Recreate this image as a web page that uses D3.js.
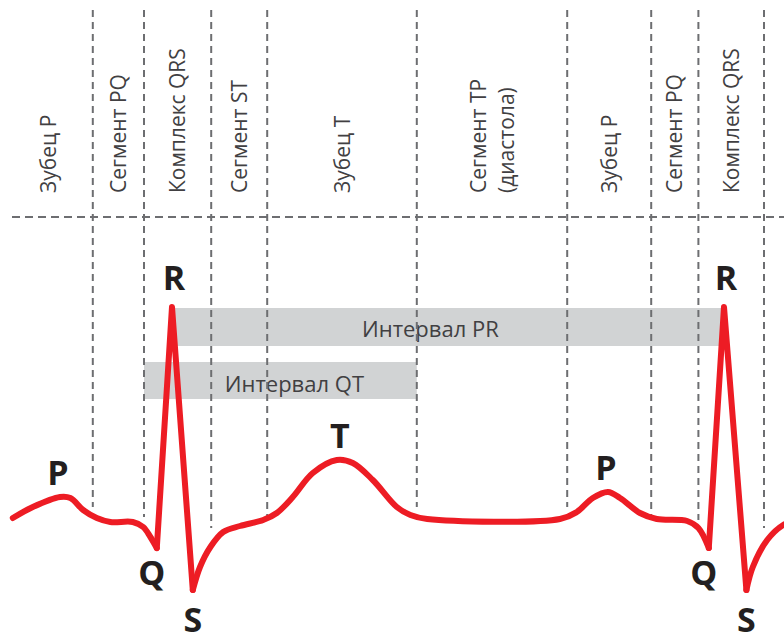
<!DOCTYPE html>
<html>
<head>
<meta charset="utf-8">
<script src="https://cdn.jsdelivr.net/npm/d3@7"></script>
<style>
  html, body { margin: 0; padding: 0; background: #fff; }
  svg { display: block; }
</style>
</head>
<body>
<svg id="chart" width="784" height="636"></svg>
<script>
// ---------------- DATA ----------------
// time axis in ms, voltage in mV (0 = isoelectric line)
const ecgTime  = [16, 41, 75, 88, 104, 121, 138, 166, 179, 188, 196, 215, 241, 250, 263, 279, 300, 329, 346, 366, 391, 421, 441, 466, 496, 513, 534, 700, 721, 741, 760, 775, 800, 821, 859, 873, 886, 905, 933, 941, 959, 979, 990];
const ecgVolt  = [0.01, 0.12, 0.22, 0.21, 0.09, 0.01, -0.03, -0.03, -0.08, -0.18, -0.29, 2.12, -0.71, -0.48, -0.28, -0.13, -0.07, -0.01, 0.06, 0.22, 0.46, 0.59, 0.56, 0.39, 0.12, 0.04, 0.00, 0.00, 0.07, 0.21, 0.27, 0.21, 0.06, 0.00, -0.02, -0.09, -0.29, 2.12, -0.71, -0.48, -0.21, -0.06, -0.03];
const ecgSharp = [0,0,0,0,0,0,0,0,0,0,1,1,1,0,0,0,0,0,0,0,0,0,0,0,0,0,0,0,0,0,0,0,0,0,0,0,1,1,1,0,0,0,0];

// segment boundaries (ms) and their names
const segBounds = [6, 116, 180, 264, 334, 521, 709, 814, 873, 955];
const segNames  = [["Зубец P"], ["Сегмент PQ"], ["Комплекс QRS"], ["Сегмент ST"], ["Зубец T"], ["Сегмент TP", "(диастола)"], ["Зубец P"], ["Сегмент PQ"], ["Комплекс QRS"]];
const dividerEndV = [0.12, 0.02, -0.09, 0.02, 0.12, 0.12, 0.04, -0.01, -0.09];

// intervals
const intervalNames = ["Интервал PR", "Интервал QT"];
const intervalStart = [215, 180];
const intervalEnd   = [905, 521];

// wave labels: name and index of the ECG point they mark
const waveNames = ["P", "Q", "R", "S", "T", "P", "Q", "R", "S"];
const waveIndex = [2, 10, 11, 12, 21, 30, 36, 37, 38];

// ---------------- LAYOUT ----------------
const W = 784, H = 636;
const svg = d3.select("#chart");
const x = d3.scaleLinear().domain([0, 980]).range([0, 784]);
const y = d3.scaleLinear().domain([-1, 2.5]).range([619, 269]);

const RED = "#ed1c24", DASH = "#6d6e71", BAND = "#d1d3d4";

const headerY = 217;       // horizontal dashed separator
const labelBottom = 193;   // start (bottom) of rotated labels
const bandY = [308, 362], bandH = [38, 37];
const bandTextX = [538, 368];
const bandTextY = [337, 392];

// ---- interval bands
intervalNames.forEach((name, i) => {
  svg.append("rect")
    .attr("x", x(intervalStart[i])).attr("y", bandY[i])
    .attr("width", x(intervalEnd[i]) - x(intervalStart[i])).attr("height", bandH[i])
    .attr("fill", BAND);
  svg.append("text")
    .attr("x", x(bandTextX[i])).attr("y", bandTextY[i])
    .attr("text-anchor", "middle")
    .attr("font-family", "'Open Sans', sans-serif")
    .attr("font-size", 22)
    .attr("fill", "#414042")
    .text(name);
});

// ---- dashed grid
svg.append("line")
  .attr("x1", 12).attr("x2", W).attr("y1", headerY).attr("y2", headerY)
  .attr("stroke", DASH).attr("stroke-width", 2).attr("stroke-dasharray", "8,5");

segBounds.slice(1).forEach((b, i) => {
  svg.append("line")
    .attr("x1", x(b)).attr("x2", x(b))
    .attr("y1", 10).attr("y2", y(dividerEndV[i]))
    .attr("stroke", DASH).attr("stroke-width", 2).attr("stroke-dasharray", "7,5");
});

// ---- rotated segment labels
const labelFS = 21, lineGap = 28;
segNames.forEach((lines, i) => {
  const cx = (x(segBounds[i]) + x(segBounds[i + 1])) / 2;
  lines.forEach((t, j) => {
    const off = (j - (lines.length - 1) / 2) * lineGap;
    const bx = cx + off + labelFS * 0.36;
    svg.append("text")
      .attr("transform", `translate(${bx},${labelBottom}) rotate(-90)`)
      .attr("font-family", "'Open Sans', sans-serif")
      .attr("font-size", labelFS)
      .attr("fill", "#414042")
      .text(t);
  });
});

// ---- ECG trace
const pts = ecgTime.map((t, i) => ({t, v: ecgVolt[i], s: ecgSharp[i]}));
const runs = [];
for (let i = 0; i < pts.length - 1; i++) {
  const lin = pts[i].s && pts[i + 1].s;
  const last = runs[runs.length - 1];
  if (last && last.lin === lin) last.pts.push(pts[i + 1]);
  else runs.push({lin, pts: [pts[i], pts[i + 1]]});
}
runs.forEach(r => {
  const line = d3.line().x(d => x(d.t)).y(d => y(d.v))
    .curve(r.lin ? d3.curveLinear : d3.curveCatmullRom.alpha(0.5));
  svg.append("path")
    .attr("d", line(r.pts))
    .attr("fill", "none").attr("stroke", RED).attr("stroke-width", 6)
    .attr("stroke-linecap", "round").attr("stroke-linejoin", "round");
});

// ---- wave letters
const waveOff = {P: [-2, -12], Q: [-5, 37], R: [2, -17], S: [0, 42], T: [3, -12]};
waveNames.forEach((n, i) => {
  const p = pts[waveIndex[i]];
  svg.append("text")
    .attr("x", x(p.t) + waveOff[n][0]).attr("y", y(p.v) + waveOff[n][1])
    .attr("text-anchor", "middle")
    .attr("font-family", "'Open Sans', sans-serif")
    .attr("font-weight", 700)
    .attr("font-size", 34)
    .attr("fill", "#231f20")
    .text(n);
});
</script>
</body>
</html>
